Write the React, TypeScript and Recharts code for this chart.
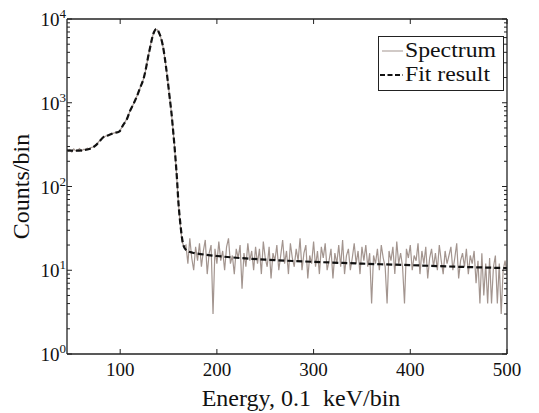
import React from 'react';
import { LineChart, Line, XAxis, YAxis, Legend, Label } from 'recharts';

// Spectrum: counts per bin, bins start at 46, step 2
const SPEC_START = 46;
const SPEC_STEP = 2;
const spectrumCounts = [
  262, 275, 258, 280, 266, 272, 284, 264, 278, 275, 286, 280, 292,
  296, 310, 322, 345, 362,
  382, 396, 404, 412, 420, 428, 436, 442, 450,
  470, 515, 565, 615, 690, 790, 880, 985, 1110, 1250, 1440, 1660, 1910, 2350, 3100, 4050,
  5250, 6500, 7350, 7500, 6950, 6000, 4850, 3500, 2380, 1520, 960, 580, 320, 158, 68,
  36, 22, 19,
  20, 12, 24, 14, 10, 19, 13,
  21, 11, 17, 23, 9, 16, 20, 3, 18, 12,
  22, 13, 17, 10, 19, 24, 12, 15, 9, 18,
  14, 20, 6, 16, 11, 21, 13, 17, 10, 19,
  12, 18, 9, 22, 14, 11, 19, 8, 16, 13,
  20, 10, 15, 23, 12, 17, 9, 21, 14, 11,
  18, 13, 24, 10, 16, 20, 8, 15, 12, 22,
  11, 17, 9, 19, 14, 21, 10, 13, 18, 8,
  16, 12, 20, 11, 23, 9, 15, 18, 10, 14,
  21, 12, 17, 9, 19, 13, 20, 11, 16, 4,
  15, 12, 18, 10, 20, 14, 11, 4, 17, 13,
  19, 9, 22, 12, 16, 11, 4, 18, 14, 20,
  10, 15, 13, 21, 9, 17, 12, 19, 8, 14,
  18, 11, 16, 10, 20, 13, 9, 17, 12, 15,
  19, 10, 14, 21, 8, 13, 16, 11, 18, 9,
  15, 12, 17, 7, 13, 4, 16, 5, 12, 4,
  14, 4, 11, 15, 4, 12, 3, 10, 13, 9,
];

// Fit result
const fitEnergy = [
  45, 55, 62, 68, 74, 79, 83, 88, 93, 99, 103, 107, 110, 114, 118, 121, 124, 127, 129, 131, 133,
  135, 137, 139, 141, 143, 145, 147, 149, 151, 153, 155, 157, 159, 160, 162, 164, 166, 170, 175,
  180, 200, 220, 250, 300, 350, 400, 450, 500,
];
const fitCounts = [
  270, 268, 272, 280, 305, 350, 392, 410, 433, 452, 540, 640, 790, 980, 1250, 1550, 1900, 2700, 3600, 4600, 5900,
  7000, 7600, 7300, 6500, 5500, 4200, 2900, 1900, 1200, 760, 430, 230, 110, 70, 38, 24, 19, 16.8, 16.2,
  15.8, 14.8, 14.1, 13.4, 12.6, 12.0, 11.5, 11.0, 10.6,
];

const xTicks = [100, 200, 300, 400, 500];
const yMajor = [1, 10, 100, 1000, 10000];
const yTicks: number[] = [];
[1, 10, 100, 1000].forEach((d) => {
  for (let m = 1; m <= 9; m++) yTicks.push(d * m);
});
yTicks.push(10000);

const spectrumData = spectrumCounts.map((c, i) => ({ x: SPEC_START + i * SPEC_STEP, y: c }));
const fitData = fitEnergy.map((e, i) => ({ x: e, y: fitCounts[i] }));

const FONT = 'Liberation Serif, Times New Roman, serif';
const AX = '#222';

const LeftTick = (props: any) => {
  const { x, y, payload } = props;
  const v = payload.value;
  const major = yMajor.includes(v);
  return (
    <g>
      <line x1={x} x2={x + (major ? 5 : 3)} y1={y} y2={y} stroke={AX} strokeWidth={1} />
      {major && (
        <text x={x - 1} y={y + 7} textAnchor="end" fontSize={19} style={{ fontFamily: FONT }} fill="#111">
          10
          <tspan dy={-8} fontSize={13}>{Math.round(Math.log10(v))}</tspan>
        </text>
      )}
    </g>
  );
};

const RightTick = (props: any) => {
  const { x, y, payload } = props;
  const major = yMajor.includes(payload.value);
  return <line x1={x} x2={x - (major ? 5 : 3)} y1={y} y2={y} stroke={AX} strokeWidth={1} />;
};

const BottomTick = (props: any) => {
  const { x, y, payload } = props;
  return (
    <g>
      <line x1={x} x2={x} y1={y} y2={y - 5} stroke={AX} strokeWidth={1} />
      <text x={x} y={y + 22} textAnchor="middle" fontSize={19} style={{ fontFamily: FONT }} fill="#111">
        {payload.value}
      </text>
    </g>
  );
};

const TopTick = (props: any) => {
  const { x, y } = props;
  return <line x1={x} x2={x} y1={y} y2={y + 5} stroke={AX} strokeWidth={1} />;
};

const LegendBox = () => (
  <svg width={127} height={56} style={{ display: 'block' }}>
    <rect x={0.5} y={0.5} width={125} height={54} fill="#fff" stroke="#222" strokeWidth={1} />
    <line x1={4} x2={25} y1={15} y2={15} stroke="#c2b8b4" strokeWidth={1.5} />
    <text x={27} y={21} fontSize={21} style={{ fontFamily: FONT }} fill="#111" textLength={91} lengthAdjust="spacingAndGlyphs">
      Spectrum
    </text>
    <line x1={2} x2={25} y1={39} y2={39} stroke="#111" strokeWidth={2} strokeDasharray="5 2.5" />
    <text x={27} y={45} fontSize={21} style={{ fontFamily: FONT }} fill="#111" textLength={85} lengthAdjust="spacingAndGlyphs">
      Fit result
    </text>
  </svg>
);

export default function App() {
  return (
    <div style={{ position: 'absolute', left: 0, top: 0, width: 539, height: 413, background: '#fff' }}>
      <LineChart width={539} height={413} margin={{ top: 0, right: 0, bottom: 0, left: 0 }}>
        <XAxis
          xAxisId="bottom"
          dataKey="x"
          type="number"
          domain={[45, 500]}
          allowDataOverflow
          ticks={xTicks}
          interval={0}
          height={59}
          tickSize={0}
          tickMargin={0}
          tick={<BottomTick />}
          axisLine={{ stroke: AX, strokeWidth: 1.3 }}
          tickLine={false}
        >
          <Label
            content={(p: any) => {
              const vb = p.viewBox || {};
              return (
                <text
                  x={vb.x + vb.width / 2 + 14}
                  y={406}
                  textAnchor="middle"
                  fontSize={24}
                  fill="#111"
                  style={{ whiteSpace: 'pre', fontFamily: FONT }}
                >
                  {'Energy, 0.1  keV/bin'}
                </text>
              );
            }}
          />
        </XAxis>
        <XAxis
          xAxisId="top"
          orientation="top"
          dataKey="x"
          type="number"
          domain={[45, 500]}
          allowDataOverflow
          ticks={xTicks}
          interval={0}
          height={19}
          tickSize={0}
          tickMargin={0}
          tick={<TopTick />}
          axisLine={{ stroke: AX, strokeWidth: 1.3 }}
          tickLine={false}
        />
        <YAxis
          yAxisId="left"
          dataKey="y"
          type="number"
          scale="log"
          domain={[1, 10000]}
          allowDataOverflow
          ticks={yTicks}
          interval={0}
          width={67}
          tickSize={0}
          tickMargin={0}
          tick={<LeftTick />}
          axisLine={{ stroke: AX, strokeWidth: 1.3 }}
          tickLine={false}
        >
          <Label
            content={(p: any) => {
              const vb = p.viewBox || {};
              const cy = vb.y + vb.height / 2;
              return (
                <text
                  x={29}
                  y={cy}
                  transform={`rotate(-90, 29, ${cy})`}
                  textAnchor="middle"
                  fontSize={24}
                  fill="#111"
                  style={{ fontFamily: FONT }}
                >
                  Counts/bin
                </text>
              );
            }}
          />
        </YAxis>
        <YAxis
          yAxisId="right"
          orientation="right"
          dataKey="y"
          type="number"
          scale="log"
          domain={[1, 10000]}
          allowDataOverflow
          ticks={yTicks}
          interval={0}
          width={32}
          tickSize={0}
          tickMargin={0}
          tick={<RightTick />}
          axisLine={{ stroke: AX, strokeWidth: 1.3 }}
          tickLine={false}
        />
        <Legend
          layout="vertical"
          align="center"
          verticalAlign="middle"
          wrapperStyle={{ left: 378, top: 36, width: 'auto', height: 'auto' }}
          content={() => <LegendBox />}
        />
        <Line
          xAxisId="bottom"
          yAxisId="left"
          data={spectrumData}
          dataKey="y"
          type="linear"
          stroke="#a3958f"
          strokeWidth={1.2}
          dot={false}
          isAnimationActive={false}
          name="Spectrum"
        />
        <Line
          xAxisId="bottom"
          yAxisId="left"
          data={fitData}
          dataKey="y"
          type="monotone"
          stroke="#111"
          strokeWidth={2.2}
          strokeDasharray="6 3"
          dot={false}
          isAnimationActive={false}
          name="Fit result"
        />
      </LineChart>
    </div>
  );
}
